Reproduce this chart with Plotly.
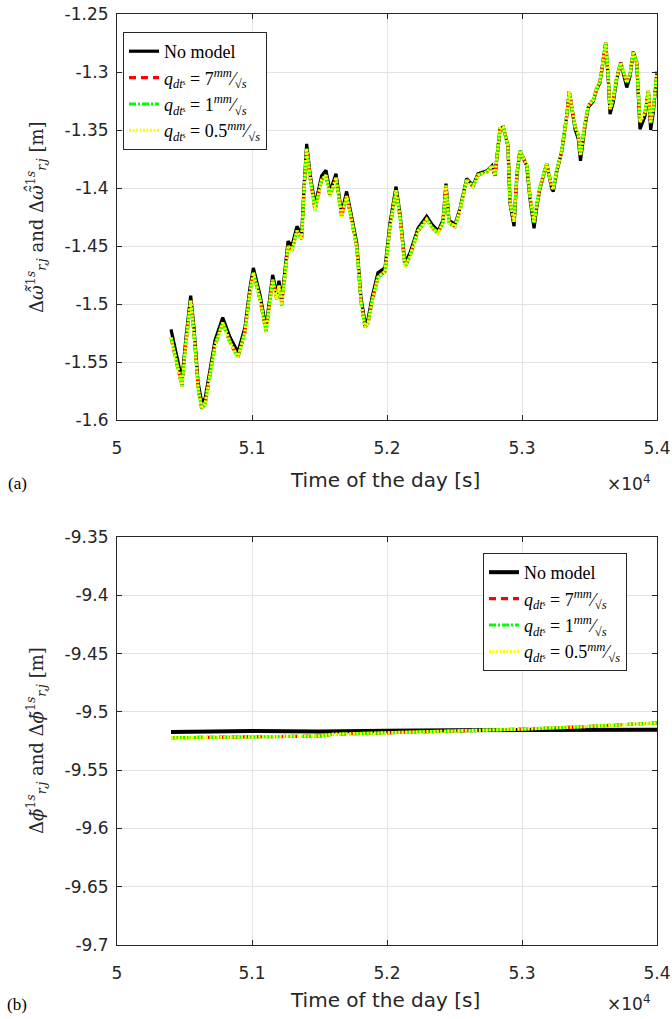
import plotly.graph_objects as go

# ---------------- data (top panel) ----------------
t_top = [50400, 50467, 50481, 50511, 50546, 50570, 50600, 50627, 50652, 50689,
         50726, 50783, 50837, 50896, 50948, 50985, 51010, 51059, 51104, 51153,
         51183, 51200, 51220, 51267, 51296, 51333, 51368, 51385, 51405, 51430,
         51467, 51516, 51548, 51578, 51622, 51664, 51701, 51733, 51776, 51807,
         51837, 51859, 51889, 51933, 51985, 52022, 52067, 52096, 52133, 52170,
         52230, 52294, 52333, 52378, 52415, 52437, 52459, 52504, 52541, 52590,
         52637, 52674, 52741, 52778, 52800, 52837, 52861, 52896, 52911, 52941,
         52963, 52985, 53035, 53059, 53089, 53111, 53133, 53183, 53220, 53232,
         53257, 53294, 53331, 53350, 53368, 53393, 53417, 53433, 53467, 53491,
         53528, 53553, 53578, 53602, 53620, 53639, 53652, 53676, 53701, 53731,
         53750, 53776, 53800, 53824, 53850, 53874, 53911, 53936, 53953, 53973,
         54000]

no_model_top = [-1.5218, -1.5603, -1.5655, -1.5287, -1.4928, -1.5202, -1.5672, -1.5843, -1.5817, -1.5569,
                -1.5313, -1.5116, -1.5287, -1.5416, -1.5202, -1.4860, -1.4689, -1.4920, -1.5202, -1.4749,
                -1.4917, -1.4800, -1.4971, -1.4458, -1.4500, -1.4330, -1.4404, -1.4005, -1.3620, -1.3877,
                -1.4150, -1.3894, -1.3848, -1.4030, -1.3877, -1.4219, -1.4030, -1.4219, -1.4475, -1.4945,
                -1.5159, -1.5133, -1.4945, -1.4731, -1.4689, -1.4304, -1.3988, -1.4219, -1.4646, -1.4560,
                -1.4347, -1.4244, -1.4313, -1.4372, -1.4278, -1.3962, -1.4278, -1.4313, -1.4176, -1.3919,
                -1.3979, -1.3877, -1.3851, -1.3808, -1.3894, -1.3492, -1.3475, -1.3637, -1.4133, -1.4330,
                -1.3877, -1.3680, -1.3808, -1.4090, -1.4347, -1.4150, -1.4005, -1.3791, -1.4005, -1.4030,
                -1.3860, -1.3688, -1.3381, -1.3167, -1.3295, -1.3492, -1.3577, -1.3765, -1.3466, -1.3304,
                -1.3252, -1.3150, -1.3090, -1.2868, -1.2748, -1.3064, -1.3363, -1.3261, -1.3064, -1.2919,
                -1.3004, -1.3133, -1.3039, -1.2825, -1.2919, -1.3492, -1.3381, -1.3167, -1.3500, -1.3346,
                -1.2996]

q7_top = [-1.5290, -1.5650, -1.5710, -1.5330, -1.4970, -1.5250, -1.5720, -1.5900, -1.5870, -1.5610,
          -1.5360, -1.5160, -1.5330, -1.5460, -1.5240, -1.4900, -1.4730, -1.4960, -1.5240, -1.4790,
          -1.4960, -1.4840, -1.5010, -1.4500, -1.4540, -1.4370, -1.4440, -1.4040, -1.3660, -1.3910,
          -1.4190, -1.3930, -1.3890, -1.4070, -1.3910, -1.4250, -1.4070, -1.4250, -1.4510, -1.4980,
          -1.5200, -1.5170, -1.4980, -1.4770, -1.4720, -1.4340, -1.4020, -1.4250, -1.4680, -1.4590,
          -1.4370, -1.4270, -1.4340, -1.4390, -1.4300, -1.3980, -1.4300, -1.4330, -1.4190, -1.3930,
          -1.3990, -1.3890, -1.3860, -1.3810, -1.3890, -1.3490, -1.3475, -1.3637, -1.4120, -1.4290,
          -1.3870, -1.3680, -1.3800, -1.4070, -1.4300, -1.4130, -1.3990, -1.3790, -1.3990, -1.4010,
          -1.3850, -1.3680, -1.3380, -1.3167, -1.3290, -1.3470, -1.3540, -1.3720, -1.3440, -1.3290,
          -1.3240, -1.3140, -1.3080, -1.2868, -1.2748, -1.3040, -1.3320, -1.3230, -1.3050, -1.2919,
          -1.2990, -1.3090, -1.3020, -1.2825, -1.2919, -1.3430, -1.3350, -1.3160, -1.3440, -1.3310,
          -1.2996]
q1_top = q7_top
q05_top = q7_top

# ---------------- data (bottom panel) ----------------
t_bot = [50400, 51000, 51500, 51600, 52000, 52500, 53000, 53500, 54000]
no_model_bot = [-9.5172, -9.5165, -9.5168, -9.5166, -9.5162, -9.5158, -9.5158, -9.5155, -9.5153]
q7_bot = [-9.5222, -9.5216, -9.5208, -9.5192, -9.5180, -9.5165, -9.5148, -9.5125, -9.5095]
q1_bot = q7_bot
q05_bot = q7_bot

x_tickvals = [50000, 51000, 52000, 53000, 54000]
x_ticktext = ["5", "5.1", "5.2", "5.3", "5.4"]
y_top_vals = [-1.6, -1.55, -1.5, -1.45, -1.4, -1.35, -1.3, -1.25]
y_top_text = ["-1.6", "-1.55", "-1.5", "-1.45", "-1.4", "-1.35", "-1.3", "-1.25"]
y_bot_vals = [-9.7, -9.65, -9.6, -9.55, -9.5, -9.45, -9.4, -9.35]
y_bot_text = ["-9.7", "-9.65", "-9.6", "-9.55", "-9.5", "-9.45", "-9.4", "-9.35"]

names = ["No model",
         "<i>q</i><sub><i>dt</i>ˢ</sub> = 7<sup><i>mm</i></sup>⁄<sub>√<i>s</i></sub>",
         "<i>q</i><sub><i>dt</i>ˢ</sub> = 1<sup><i>mm</i></sup>⁄<sub>√<i>s</i></sub>",
         "<i>q</i><sub><i>dt</i>ˢ</sub> = 0.5<sup><i>mm</i></sup>⁄<sub>√<i>s</i></sub>"]
colors = ["#000000", "#ff0000", "#00ff00", "#ffff00"]
dashes = ["solid", "7px,5px", "7px,2px,2px,2px", "2px,1.5px"]
widths = [3.2, 3.2, 3.2, 3.2]

W, H = 672, 1019
def px(x):
    return x / W
def py(y):
    return 1 - y / H

fig = go.Figure()
top_series = [no_model_top, q7_top, q1_top, q05_top]
bot_series = [no_model_bot, q7_bot, q1_bot, q05_bot]
for i in range(4):
    fig.add_trace(go.Scatter(x=t_top, y=top_series[i], mode="lines", name=names[i],
                             line=dict(color=colors[i], dash=dashes[i], width=widths[i]),
                             xaxis="x", yaxis="y", legend="legend"))
for i in range(4):
    fig.add_trace(go.Scatter(x=t_bot, y=bot_series[i], mode="lines", name=names[i],
                             line=dict(color=colors[i], dash=dashes[i], width=widths[i] + (0.8 if i == 0 else 0)),
                             xaxis="x2", yaxis="y2", legend="legend2"))

sans = "DejaVu Sans, Liberation Sans, Arial"
serif = "Liberation Serif, Times New Roman, serif"
axis_common = dict(showline=True, linecolor="#262626", linewidth=1, mirror="ticks",
                   ticks="inside", ticklen=5, tickcolor="#262626", automargin=False,
                   showgrid=True, gridcolor="#e3e3e3", gridwidth=1, zeroline=False,
                   tickfont=dict(family=sans, size=17, color="#262626"))

xdom = [px(117), px(657)]
leg_common = dict(xanchor="left", yanchor="top", bgcolor="white",
                  bordercolor="#262626", borderwidth=1,
                  font=dict(family=serif, size=18, color="#000000"),
                  tracegroupgap=0, itemwidth=30)
fig.update_layout(
    width=W, height=H, plot_bgcolor="white", paper_bgcolor="white",
    margin=dict(l=0, r=0, t=0, b=0),
    xaxis=dict(domain=xdom, anchor="y", range=[50000, 54000], tickvals=x_tickvals,
               ticktext=x_ticktext, ticklabelstandoff=13, **axis_common),
    yaxis=dict(domain=[py(420), py(14)], anchor="x", range=[-1.6, -1.25], tickvals=y_top_vals,
               ticktext=y_top_text, ticklabelstandoff=4, **axis_common),
    xaxis2=dict(domain=xdom, anchor="y2", range=[50000, 54000], tickvals=x_tickvals,
                ticktext=x_ticktext, ticklabelstandoff=13, **axis_common),
    yaxis2=dict(domain=[py(945), py(537)], anchor="x2", range=[-9.7, -9.35], tickvals=y_bot_vals,
                ticktext=y_bot_text, ticklabelstandoff=4, **axis_common),
    legend=dict(x=px(123), y=py(32), **leg_common),
    legend2=dict(x=px(483), y=py(553), **leg_common),
)

tick_font = dict(family=sans, size=17, color="#262626")
title_font = dict(family=sans, size=20, color="#262626")
ylab_font = dict(family="DejaVu Serif, Liberation Serif, serif", size=18, color="#262626")
annotations = [
    dict(text="Time of the day [s]", x=px(385), y=py(480), font=title_font),
    dict(text="Time of the day [s]", x=px(385), y=py(1000), font=title_font),
    dict(text="×10<sup>4</sup>", x=px(628), y=py(483), font=tick_font),
    dict(text="×10<sup>4</sup>", x=px(628), y=py(1003), font=tick_font),
    dict(text="(a)", x=px(17), y=py(484), font=dict(family=serif, size=17, color="#000000")),
    dict(text="(b)", x=px(17), y=py(1004), font=dict(family=serif, size=17, color="#000000")),
    dict(text="Δ<i>ω̂̃</i><sup>1<i>s</i></sup><sub><i>r,j</i></sub> and Δ<i>ω̃̂</i><sup>1<i>s</i></sup><sub><i>r,j</i></sub> [m]",
         x=px(36), y=py(217), textangle=-90, font=ylab_font),
    dict(text="Δ<i>ϕ̃</i><sup>1<i>s</i></sup><sub><i>r,j</i></sub> and Δ<i>ϕ̃</i><sup>1<i>s</i></sup><sub><i>r,j</i></sub> [m]",
         x=px(36), y=py(741), textangle=-90, font=ylab_font),
]
for a in annotations:
    a.update(xref="paper", yref="paper", showarrow=False, xanchor="center", yanchor="middle")
fig.update_layout(annotations=annotations)

fig.write_html("out.html", config={"displayModeBar": False},
               post_script="document.body.style.margin='0';document.body.style.padding='0';"
                           "document.documentElement.style.overflow='hidden';")
